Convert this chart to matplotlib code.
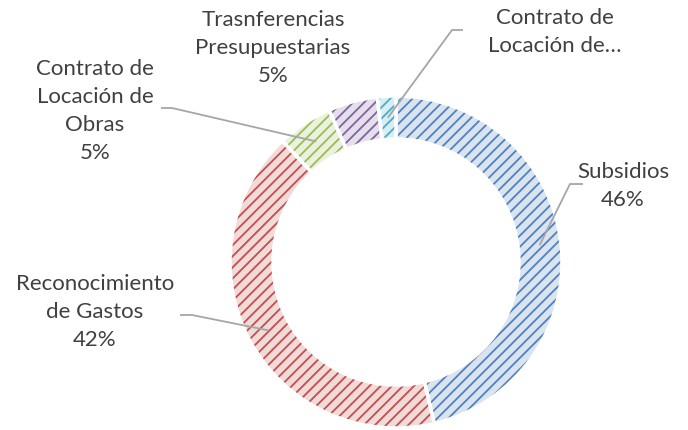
import matplotlib
matplotlib.use("Agg")
import matplotlib.pyplot as plt
from matplotlib.patches import Wedge
import numpy as np

labels = ["Subsidios", "Reconocimiento\nde Gastos", "Contrato de\nLocación de\nObras",
          "Trasnferencias\nPresupuestarias", "Contrato de\nLocación de…"]
values = [46.3, 41.7, 5.4, 4.8, 1.8]
show_pct = [True, True, True, True, False]

dark = ["#4f81bd", "#c0504d", "#9bbb59", "#8064a2", "#4bacc6"]
light = ["#dae4f1", "#f2dad9", "#eaf1dc", "#e5dfec", "#d8eef5"]

plt.rcParams['font.family'] = ['Lato', 'DejaVu Sans']
plt.rcParams['hatch.linewidth'] = 1.3

fig = plt.figure(figsize=(6.88, 4.30), dpi=100)
ax = fig.add_axes([0, 0, 1, 1])
ax.axis('off')

cx, cy = 396, 168
R, W = 166, 43

wedges, _ = ax.pie(values, center=(cx, cy), radius=R, startangle=90, counterclock=False,
                   colors=light, wedgeprops=dict(width=W, linewidth=0))
for w, c in zip(wedges, dark):
    h = Wedge(w.center, w.r, w.theta1, w.theta2, width=w.width,
              facecolor='none', edgecolor=c, hatch='///', linewidth=0)
    ax.add_patch(h)
    e = Wedge(w.center, w.r, w.theta1, w.theta2, width=w.width,
              facecolor='none', edgecolor='white', linewidth=2.5)
    ax.add_patch(e)
ax.set_xlim(0, 688)
ax.set_ylim(0, 430)
ax.set_aspect('equal')

# label layout: text centre, elbow point, line end (pixels, y from top)
text_pos = [(623, 186), (95, 312), (95, 111), (273, 48), (555, 32)]
elbows = [((570, 184), (583, 184)), ((192, 315), (180, 315)), ((172, 108), (161, 108)),
          None, ((452, 30), (463, 30))]

for i, w in enumerate(wedges):
    txt = labels[i]
    if show_pct[i]:
        txt += "\n%d%%" % round(values[i])
    tx, ty = text_pos[i]
    ax.text(tx, 430 - ty, txt, ha='center', va='center', fontsize=16,
            color='#404040', linespacing=1.5)
    if elbows[i] is not None:
        mid = np.deg2rad((w.theta1 + w.theta2) / 2)
        rr = R - W / 2
        ax_ = cx + rr * np.cos(mid)
        ay_ = cy + rr * np.sin(mid)
        (ex, ey), (fx, fy) = elbows[i]
        ax.plot([ax_, ex, fx], [ay_, 430 - ey, 430 - fy], color='#a6a6a6', lw=1.3,
                solid_capstyle='butt')

fig.savefig("out.png", dpi=100)
